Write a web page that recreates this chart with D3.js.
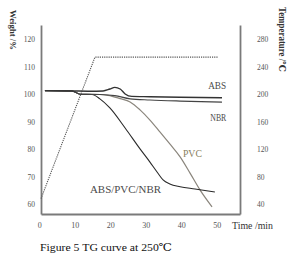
<!DOCTYPE html>
<html>
<head>
<meta charset="utf-8">
<script src="https://cdn.jsdelivr.net/npm/d3@7"></script>
<style>
  body{margin:0;background:#fff;}
  svg{display:block;}
</style>
</head>
<body>
<div id="d3demo"><svg id="chart" width="303" height="259"></svg></div>
<script>
// DATA (time in min, weight in %, temperature in C)
const absTime  = [1.6, 9.2, 14.3, 18.0, 19.9, 21.3, 22.8, 24.2, 26.1, 31.2, 39.7, 51.5]
const absWeight = [101.3, 101.2, 101.1, 101.2, 101.9, 102.5, 101.9, 100.1, 99.2, 99.1, 98.9, 98.7]

const nbrTime  = [1.6, 9.2, 11.5, 17.1, 21.3, 25.6, 31.2, 39.7, 51.5]
const nbrWeight = [101.3, 101.2, 100.0, 99.9, 99.5, 98.3, 97.9, 97.5, 97.1]

const pvcTime  = [1.6, 9.2, 11.5, 17.1, 19.4, 22.8, 25.6, 28.4, 31.2, 34.0, 36.8, 39.7, 42.5, 45.3, 48.7]
const pvcWeight = [101.3, 101.2, 100.0, 99.9, 99.6, 98.4, 97.2, 94.3, 90.6, 86.3, 81.9, 77.2, 71.3, 65.2, 59.0]

const blendTime  = [1.6, 9.2, 11.5, 14.9, 17.1, 19.9, 24.2, 28.4, 31.2, 33.2, 34.9, 36.8, 39.7, 43.9, 49.5]
const blendWeight = [101.3, 101.2, 100.0, 99.9, 98.3, 95.0, 87.7, 80.1, 75.3, 71.7, 68.8, 67.3, 66.3, 65.5, 64.4]

const tempTime = [0.5, 15.7, 50.4]
const tempValue = [48, 254, 254]

const timeTicks = [0, 10, 20, 30, 40, 50]
const weightTicks = [60, 70, 80, 90, 100, 110, 120]
const tempTicks = [40, 80, 120, 160, 200, 240, 280]

const seriesNames = ['ABS', 'NBR', 'PVC', 'ABS/PVC/NBR']

const zip=(xs,ys)=>xs.map((t,i)=>({t:t,v:ys[i]}))

const svg=d3.select('#chart')
svg.append('rect').attr('width',303).attr('height',259).attr('fill','#fff')

// SCALES
const x=d3.scaleLinear().domain([0.49,56.58]).range([41,240])
const y=d3.scaleLinear().domain([56.4,125.2]).range([214,25])
const yT=d3.scaleLinear().domain([25.6,300.8]).range([214,25])

const serif='"Liberation Serif","DejaVu Serif",serif'

// AXES
const styleAxis=(g)=>{
    g.select('.domain').attr('stroke','#7a7a7a').attr('stroke-width',1.8)
    g.selectAll('text').attr('fill','#555').attr('font-family',serif)
}
svg.append('g')
    .attr('transform','translate(41,0)')
    .call(d3.axisLeft(y).tickValues(weightTicks).tickSize(0).tickPadding(6))
    .call(styleAxis)
    .selectAll('text').attr('font-size','7.5px')

svg.append('g')
    .attr('transform','translate(240,0)')
    .call(d3.axisRight(yT).tickValues(tempTicks).tickSize(0).tickPadding(17))
    .call(styleAxis)
    .selectAll('text').attr('font-size','7.5px')

svg.append('g')
    .attr('transform','translate(0,214)')
    .call(d3.axisBottom(x).tickValues(timeTicks).tickSize(0).tickPadding(8))
    .call(styleAxis)
    .selectAll('text').attr('font-size','8px')

// LINES
const line=d3.line().curve(d3.curveMonotoneX).x(d=>x(d.t)).y(d=>y(d.v))
const tline=d3.line().x(d=>x(d.t)).y(d=>yT(d.v))

svg.append('path')
    .attr('d',tline(zip(tempTime,tempValue)))
    .attr('fill','none').attr('stroke','#555').attr('stroke-width',1.1)
    .attr('stroke-dasharray','1.2,1')

svg.append('path')
    .attr('d',line(zip(pvcTime,pvcWeight)))
    .attr('fill','none').attr('stroke','#8a857c').attr('stroke-width',1.2)

svg.append('path')
    .attr('d',line(zip(blendTime,blendWeight)))
    .attr('fill','none').attr('stroke','#2a2a2a').attr('stroke-width',1.1)

svg.append('path')
    .attr('d',line(zip(nbrTime,nbrWeight)))
    .attr('fill','none').attr('stroke','#444').attr('stroke-width',1.2)

svg.append('path')
    .attr('d',line(zip(absTime,absWeight)))
    .attr('fill','none').attr('stroke','#333').attr('stroke-width',1.4)

// SERIES LABELS
const labelPos=[{t:47.6,v:101.9,w:18},{t:48.2,v:90.3,w:16},{t:40.5,v:77.2,w:19},{t:14.3,v:64.1,w:71}]
seriesNames.forEach((name,i)=>{
    const p=labelPos[i]
    svg.append('text')
        .attr('x',x(p.t)).attr('y',y(p.v))
        .attr('font-family',serif)
        .attr('font-size','10.5px')
        .attr('fill',name==='PVC'?'#8a7f5e':'#4a4a4a')
        .attr('textLength',p.w).attr('lengthAdjust','spacingAndGlyphs')
        .text(name)
})

// AXIS TITLES
svg.append('text')
    .attr('transform','translate(10,10) rotate(90)')
    .attr('font-family',serif).attr('font-weight','bold').attr('font-size','9px')
    .attr('fill','#333').attr('textLength',40).attr('lengthAdjust','spacingAndGlyphs')
    .text('Weight /%')

svg.append('text')
    .attr('transform','translate(278.5,7) rotate(90)')
    .attr('font-family',serif).attr('font-weight','bold').attr('font-size','9.5px')
    .attr('fill','#333').attr('textLength',65).attr('lengthAdjust','spacingAndGlyphs')
    .text('Temperature /℃')

svg.append('text')
    .attr('x',232).attr('y',228.5)
    .attr('font-family',serif).attr('font-size','10px')
    .attr('fill','#333').attr('textLength',41).attr('lengthAdjust','spacingAndGlyphs')
    .text('Time /min')

// CAPTION
svg.append('text')
    .attr('x',40).attr('y',250.5)
    .attr('font-family',serif).attr('font-size','11px')
    .attr('fill','#111').attr('textLength',132).attr('lengthAdjust','spacingAndGlyphs')
    .text('Figure 5 TG curve at 250℃')
</script>
</body>
</html>
